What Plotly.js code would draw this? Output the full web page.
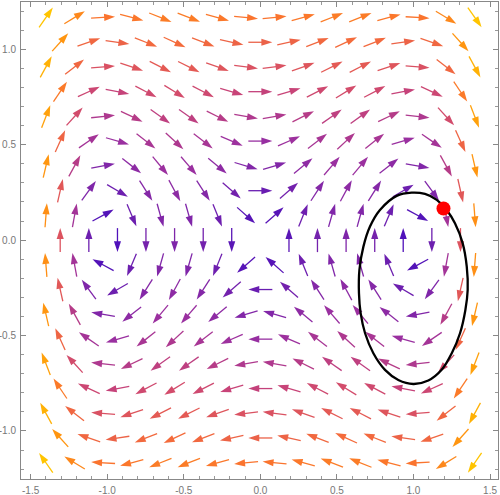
<!DOCTYPE html>
<html>
<head>
<meta charset="utf-8">
<script src="https://cdn.plot.ly/plotly-3.0.1.min.js"></script>
<style>html,body{margin:0;padding:0;background:#fff;}#chart{width:500px;height:495px;}</style>
</head>
<body>
<div id="chart"></div>
<script>
// Sample rows (y) of the staggered vector grid
const rowY = [-1.167, -1.037, -0.908, -0.778, -0.648, -0.519, -0.389, -0.259, -0.130, 0.0,
              0.130, 0.259, 0.389, 0.519, 0.648, 0.778, 0.908, 1.037, 1.167];
// Column positions for even rows (A) and odd rows (B)
const colXA = [-1.307, -1.120, -0.933, -0.747, -0.560, -0.373, -0.187, 0.0,
               0.187, 0.373, 0.560, 0.747, 0.933, 1.120, 1.307];
const colXB = [-1.400, -1.213, -1.027, -0.840, -0.653, -0.467, -0.280, -0.093,
               0.093, 0.280, 0.467, 0.653, 0.840, 1.027, 1.213, 1.400];
// Vector field of the system: x' = y, y' = x - x^3
function field(x, y) { return [y, x - x * x * x]; }

// Closed orbit (black curve)
const orbitX = [0.988, 0.890, 0.781, 0.716, 0.673, 0.647, 0.644, 0.655, 0.684, 0.738, 0.814, 0.901, 0.999,
                1.097, 1.184, 1.250, 1.304, 1.339, 1.354, 1.348, 1.321, 1.271, 1.217, 1.152, 1.075, 0.988];
const orbitY = [0.249, 0.232, 0.158, 0.071, -0.034, -0.156, -0.278, -0.383, -0.488, -0.593, -0.680, -0.733, -0.754,
                -0.736, -0.680, -0.593, -0.488, -0.366, -0.261, -0.139, -0.016, 0.088, 0.158, 0.211, 0.242, 0.249];
// Starting point (red dot)
const startX = [1.196];
const startY = [0.166];

// Colour gradient over normalised magnitude
const colorStops = [
  [0.00, [58, 6, 194]],
  [0.15, [106, 30, 176]],
  [0.30, [154, 48, 160]],
  [0.45, [200, 68, 120]],
  [0.55, [228, 90, 85]],
  [0.65, [250, 114, 48]],
  [0.78, [255, 149, 16]],
  [1.00, [255, 196, 0]]
];
function colorAt(t) {
  t = Math.max(0, Math.min(1, t));
  for (let i = 1; i < colorStops.length; i++) {
    if (t <= colorStops[i][0]) {
      const [t0, c0] = colorStops[i - 1], [t1, c1] = colorStops[i];
      const f = (t - t0) / (t1 - t0);
      const c = c0.map((v, k) => Math.round(v + (c1[k] - v) * f));
      return 'rgb(' + c.join(',') + ')';
    }
  }
  return 'rgb(255,196,0)';
}

const xRange = [-1.563, 1.552];
const yRange = [-1.252, 1.248];
const W = 500, H = 495;
const margin = {l: 21, r: 2, t: 2, b: 16, pad: 0};
const pxPerX = (W - margin.l - margin.r) / (xRange[1] - xRange[0]);
const pxPerY = (H - margin.t - margin.b) / (yRange[1] - yRange[0]);

// Build sample points
const pts = [];
rowY.forEach((y, j) => {
  const cols = (j % 2 === 1) ? colXA : colXB; // array index 9 (y=0) uses row type A
  cols.forEach(x => pts.push([x, y]));
});
let maxMag = 0;
pts.forEach(([x, y]) => { const [u, v] = field(x, y); maxMag = Math.max(maxMag, Math.hypot(u, v)); });

const L = 24;      // total arrow length in pixels
const HEAD = 10;   // head length in pixels
const traces = [];
const headX = [], headY = [], headAng = [], headCol = [];
pts.forEach(([x, y]) => {
  const [u, v] = field(x, y);
  const mag = Math.hypot(u, v);
  if (mag < 1e-9) return;
  let sx = u * pxPerX, sy = v * pxPerY;
  const n = Math.hypot(sx, sy); sx /= n; sy /= n;
  const col = colorAt(mag / maxMag);
  const tipX = x + (L / 2) * sx / pxPerX, tipY = y + (L / 2) * sy / pxPerY;
  const tailX = x - (L / 2) * sx / pxPerX, tailY = y - (L / 2) * sy / pxPerY;
  const baseX = tipX - (HEAD - 2) * sx / pxPerX, baseY = tipY - (HEAD - 2) * sy / pxPerY;
  traces.push({x: [tailX, baseX], y: [tailY, baseY], type: 'scatter', mode: 'lines',
               line: {color: col, width: 1.3}, hoverinfo: 'skip'});
  headX.push(tipX); headY.push(tipY);
  headAng.push(Math.atan2(sx, sy) * 180 / Math.PI);
  headCol.push(col);
});

traces.push(
  {x: headX, y: headY, type: 'scatter', mode: 'markers', hoverinfo: 'skip',
   marker: {symbol: 'arrow', size: 11.5, angle: headAng, color: headCol, line: {width: 0}}},
  {x: orbitX, y: orbitY, type: 'scatter', mode: 'lines',
   line: {color: '#000', width: 2.3, shape: 'spline', smoothing: 1}, hoverinfo: 'skip'},
  {x: startX, y: startY, type: 'scatter', mode: 'markers',
   marker: {color: '#ff0000', size: 14}, hoverinfo: 'skip'}
);

const axisCommon = {
  showgrid: false, zeroline: false, showline: true, mirror: 'allticks',
  linecolor: '#888', linewidth: 1, ticks: 'inside', ticklen: 5, tickcolor: '#888', tickwidth: 1,
  tickfont: {family: 'Liberation Sans, Arial, sans-serif', size: 10, color: '#777'},
  minor: {ticks: 'inside', ticklen: 3, dtick: 0.1, tickcolor: '#999', tickwidth: 1}
};
const xTicks = [-1.5, -1.0, -0.5, 0.0, 0.5, 1.0, 1.5];
const xTickText = ['-1.5', '-1.0', '-0.5', '0.0', '0.5', '1.0', '1.5'];
const yTicks = [-1.0, -0.5, 0.0, 0.5, 1.0];
const yTickText = ['-1.0', '-0.5', '0.0', '0.5', '1.0'];

const layout = {
  width: W, height: H, margin: margin,
  paper_bgcolor: '#fff', plot_bgcolor: '#fff', showlegend: false,
  xaxis: Object.assign({}, axisCommon, {range: xRange, tickvals: xTicks, ticktext: xTickText, ticklabelstandoff: 2}),
  yaxis: Object.assign({}, axisCommon, {range: yRange, tickvals: yTicks, ticktext: yTickText, ticklabelstandoff: 2})
};
Plotly.newPlot('chart', traces, layout, {staticPlot: true, displayModeBar: false});
</script>
</body>
</html>
